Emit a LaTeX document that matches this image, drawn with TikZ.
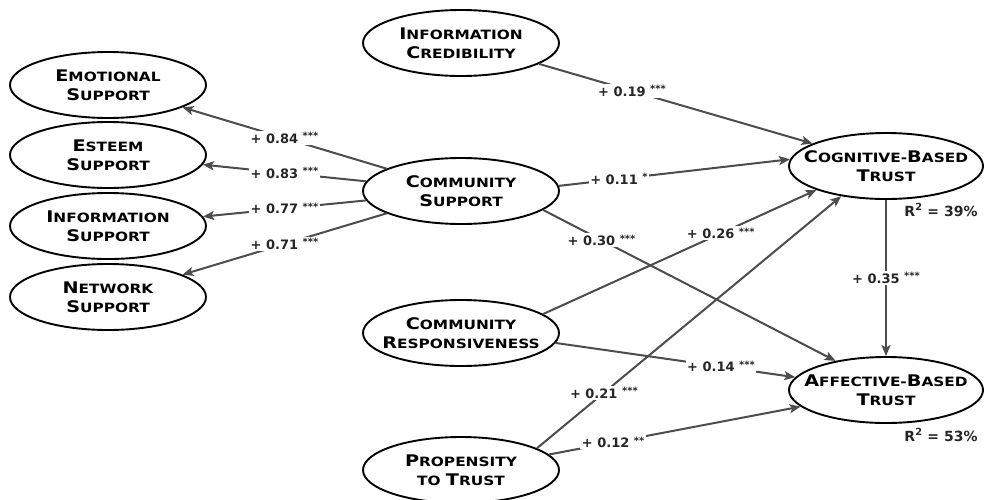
\documentclass[tikz,border=0pt]{standalone}
\usepackage{fontspec}
\usetikzlibrary{shapes.geometric,arrows.meta}
\newfontfamily\nodefont{DejaVu Sans}[FakeStretch=1.2]
\newfontfamily\labfont{DejaVu Sans}
\newcommand\SCx[2]{{\fontsize{16}{19}\selectfont #1}{\fontsize{12.8}{19}\selectfont #2}}
\newcommand\Stars[1]{\raisebox{3.5pt}{\fontsize{10}{10}\selectfont #1}}
\tikzset{
  latent/.style={ellipse, draw=black, line width=1.9pt, minimum width=196pt, minimum height=66pt,
    inner xsep=-40pt, inner ysep=0pt, align=center, font=\nodefont\bfseries\fontsize{16}{19}\selectfont},
  path arrow/.style={draw=black!70, line width=2pt, -{Stealth[length=11pt,width=9pt,inset=2.5pt]}},
  coef/.style={fill=white, inner sep=1.5pt, font=\labfont\bfseries\fontsize{13}{15}\selectfont, text=black!85},
  rsq/.style={inner sep=0pt, font=\labfont\bfseries\fontsize{14}{16}\selectfont, text=black!85}
}
\begin{document}
\begin{tikzpicture}[x=1pt,y=-1pt]
\useasboundingbox (0,0) rectangle (984,499);
% latent constructs
\node[latent] (emo) at (108,85) {\SCx{E}{MOTIONAL}\\\SCx{S}{UPPORT}};
\node[latent] (est) at (108,155) {\SCx{E}{STEEM}\\\SCx{S}{UPPORT}};
\node[latent] (ins) at (108,226) {\SCx{I}{NFORMATION}\\\SCx{S}{UPPORT}};
\node[latent] (net) at (108,297) {\SCx{N}{ETWORK}\\\SCx{S}{UPPORT}};
\node[latent] (ic) at (461,43) {\SCx{I}{NFORMATION}\\\SCx{C}{REDIBILITY}};
\node[latent] (cs) at (461,191) {\SCx{C}{OMMUNITY}\\\SCx{S}{UPPORT}};
\node[latent] (cr) at (461,333) {\SCx{C}{OMMUNITY}\\\SCx{R}{ESPONSIVENESS}};
\node[latent] (pt) at (461,470) {\SCx{P}{ROPENSITY}\\\SCx{}{TO }\SCx{T}{RUST}};
\node[latent, minimum width=194pt] (cog) at (886,166) {\SCx{C}{OGNITIVE-}\SCx{B}{ASED}\\\SCx{T}{RUST}};
\node[latent, minimum width=194pt] (aff) at (886,390) {\SCx{A}{FFECTIVE-}\SCx{B}{ASED}\\\SCx{T}{RUST}};
% R squared
\node[rsq] (r1) at (941,210) {R\textsuperscript{2} = 39\%};
\node[rsq] (r2) at (941,435) {R\textsuperscript{2} = 53\%};
% paths
\draw[path arrow] (cs) -- node[coef,pos=0.5] {+ 0.84 \Stars{***}} (emo);
\draw[path arrow] (cs) -- node[coef,pos=0.5] {+ 0.83 \Stars{***}} (est);
\draw[path arrow] (cs) -- node[coef,pos=0.5] {+ 0.77 \Stars{***}} (ins);
\draw[path arrow] (cs) -- node[coef,pos=0.5] {+ 0.71 \Stars{***}} (net);
\draw[path arrow] (ic.-15.6) -- node[coef,pos=0.34] {+ 0.19 \Stars{***}} (cog.163.6);
\draw[path arrow] (cs.3.5) -- node[coef,pos=0.26] {+ 0.11 \Stars{*}} (cog.176.5);
\draw[path arrow] (cs.-13) -- node[coef,pos=0.20] {+ 0.30 \Stars{***}} (aff.150);
\draw[path arrow] (cr.13) -- node[coef,pos=0.65] {+ 0.26 \Stars{***}} (cog.199);
\draw[path arrow] (cr.-6) -- node[coef,pos=0.69] {+ 0.14 \Stars{***}} (aff.172);
\draw[path arrow] (pt.16.8) -- node[coef,pos=0.22] {+ 0.21 \Stars{***}} (cog.214);
\draw[path arrow] (pt.10) -- node[coef,pos=0.255] {+ 0.12 \Stars{**}} (aff.191.4);
\draw[path arrow] (cog) -- node[coef,pos=0.5] {+ 0.35 \Stars{***}} (aff);
\end{tikzpicture}
\end{document}
